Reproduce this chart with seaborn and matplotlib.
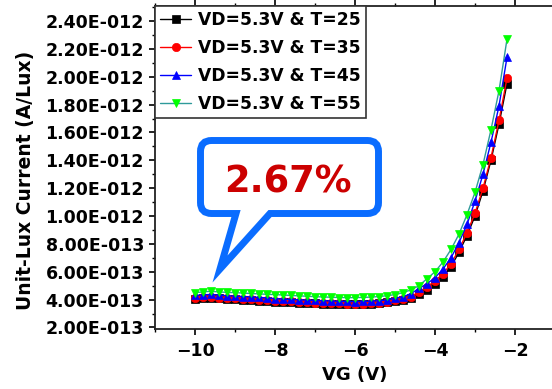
import numpy as np
import pandas as pd
import matplotlib
matplotlib.use("Agg")
import matplotlib.pyplot as plt
import seaborn as sns
from matplotlib.path import Path
from matplotlib.patches import PathPatch
from matplotlib.transforms import IdentityTransform
from matplotlib.ticker import FuncFormatter, MultipleLocator

# Gate voltage sweep (V)
vg = np.round(np.arange(-10.0, -2.19, 0.2), 1)

# Unit-lux current, in units of 1e-12 A/Lux
i_t25 = [0.407, 0.410, 0.412, 0.408, 0.405, 0.402, 0.399, 0.396, 0.393, 0.390,
         0.386, 0.383, 0.380, 0.378, 0.376, 0.374, 0.372, 0.370, 0.369, 0.368,
         0.368, 0.369, 0.371, 0.374, 0.380, 0.390, 0.400, 0.413, 0.443, 0.470,
         0.514, 0.564, 0.636, 0.740, 0.860, 1.000, 1.180, 1.400, 1.660, 1.950]
i_t35 = [0.414, 0.418, 0.420, 0.415, 0.412, 0.409, 0.406, 0.403, 0.399, 0.396,
         0.393, 0.390, 0.387, 0.384, 0.381, 0.379, 0.377, 0.375, 0.373, 0.371,
         0.370, 0.371, 0.373, 0.377, 0.386, 0.398, 0.407, 0.420, 0.457, 0.490,
         0.536, 0.586, 0.657, 0.760, 0.880, 1.020, 1.200, 1.420, 1.686, 1.990]
i_t45 = [0.430, 0.434, 0.437, 0.432, 0.428, 0.425, 0.422, 0.419, 0.416, 0.412,
         0.407, 0.404, 0.401, 0.399, 0.396, 0.394, 0.392, 0.390, 0.388, 0.387,
         0.386, 0.387, 0.389, 0.392, 0.398, 0.410, 0.420, 0.443, 0.480, 0.514,
         0.557, 0.620, 0.700, 0.810, 0.940, 1.107, 1.300, 1.530, 1.790, 2.140]
i_t55 = [0.450, 0.455, 0.460, 0.455, 0.452, 0.450, 0.447, 0.444, 0.441, 0.438,
         0.436, 0.433, 0.430, 0.427, 0.424, 0.421, 0.419, 0.417, 0.415, 0.414,
         0.414, 0.416, 0.418, 0.422, 0.428, 0.436, 0.450, 0.470, 0.500, 0.550,
         0.600, 0.670, 0.760, 0.870, 1.010, 1.170, 1.370, 1.620, 1.900, 2.270]

labels = ["VD=5.3V & T=25", "VD=5.3V & T=35", "VD=5.3V & T=45", "VD=5.3V & T=55"]
series = [i_t25, i_t35, i_t45, i_t55]
line_colors = ["#000000", "#FF0000", "#0000FF", "#2E9A9A"]
marker_colors = ["#000000", "#FF0000", "#0000FF", "#00FF00"]
markers = ["s", "o", "^", "v"]

callout_text = "2.67%"

sns.set_style("ticks")
plt.rcParams["font.family"] = ["DejaVu Sans"]
plt.rcParams["font.weight"] = "bold"
plt.rcParams["text.color"] = "black"
plt.rcParams["axes.labelcolor"] = "black"
plt.rcParams["xtick.color"] = "black"
plt.rcParams["ytick.color"] = "black"
plt.rcParams["xtick.labelcolor"] = "black"
plt.rcParams["ytick.labelcolor"] = "black"

W, H = 552, 389
fig = plt.figure(figsize=(W / 100, H / 100), dpi=100)
ax = fig.add_axes([155 / W, 60 / H, 400 / W, 323 / H])

df = pd.DataFrame({"VG": vg})
for lab, vals, lc, mc, m in zip(labels, series, line_colors, marker_colors, markers):
    df["I"] = np.asarray(vals) * 1e-12
    sns.lineplot(data=df, x="VG", y="I", ax=ax, color=lc, linewidth=1.0,
                 marker=m, markersize=6, markerfacecolor=mc, markeredgecolor=mc,
                 markeredgewidth=0.5, label=lab)

ax.set_xlim(-11, -1)
ax.set_ylim(1.89e-13, 2.508e-12)
ax.xaxis.set_major_locator(MultipleLocator(2))
ax.xaxis.set_minor_locator(MultipleLocator(1))
ax.set_yticks(np.arange(2, 25, 2) * 1e-13)
ax.yaxis.set_minor_locator(MultipleLocator(1e-13))


def sci3(v, pos):
    mant, exp = f"{v:.2E}".split("E")
    return f"{mant}E{int(exp):+04d}"


ax.yaxis.set_major_formatter(FuncFormatter(sci3))

for s in ["left", "bottom", "top"]:
    ax.spines[s].set_linewidth(1.3)
    ax.spines[s].set_color("#222222")
ax.spines["right"].set_visible(False)

ax.tick_params(axis="both", which="major", direction="out", length=4, width=1.2,
               labelsize=12.5, pad=4)
ax.tick_params(axis="both", which="minor", direction="out", length=2.5, width=1.0)
ax.tick_params(axis="x", which="major", pad=5)
ax.tick_params(axis="x", which="both", top=True)
for lbl in ax.get_xticklabels() + ax.get_yticklabels():
    lbl.set_fontweight("bold")
    lbl.set_color("black")

ax.set_xlabel("VG (V)", fontsize=13, fontweight="bold", color="black")
ax.set_ylabel("Unit-Lux Current (A/Lux)", fontsize=13.5, fontweight="bold",
              color="black")
ax.yaxis.set_label_coords(-0.30, 0.46)
ax.xaxis.set_label_coords(0.5, -0.115)

leg = ax.legend(loc="upper left", borderaxespad=0.0, fancybox=False, framealpha=1,
                edgecolor="#333333", prop={"size": 12.3, "weight": "bold"},
                handlelength=1.8, handletextpad=0.4, labelspacing=0.58,
                borderpad=0.3)
leg.get_frame().set_linewidth(1.2)
for t in leg.get_texts():
    t.set_color("black")

# speech-bubble callout, laid out in output pixel coordinates (y from top)
L, R, T, B, r = 200.5, 378.5, 140.5, 213.5, 11
x1, x2, apex = 236, 270, (220, 269)
pts = [
    ((L + r, T), Path.MOVETO), ((R - r, T), Path.LINETO),
    ((R, T), Path.CURVE3), ((R, T + r), Path.CURVE3),
    ((R, B - r), Path.LINETO),
    ((R, B), Path.CURVE3), ((R - r, B), Path.CURVE3),
    ((x2, B), Path.LINETO), (apex, Path.LINETO), ((x1, B), Path.LINETO),
    ((L + r, B), Path.LINETO),
    ((L, B), Path.CURVE3), ((L, B - r), Path.CURVE3),
    ((L, T + r), Path.LINETO),
    ((L, T), Path.CURVE3), ((L + r, T), Path.CURVE3),
    ((L + r, T), Path.CLOSEPOLY),
]
verts = [(x, H - y) for (x, y), _ in pts]
codes = [c for _, c in pts]
bubble = PathPatch(Path(verts, codes), facecolor="white", edgecolor="#0A6CFF",
                   linewidth=5, joinstyle="miter", transform=IdentityTransform(),
                   zorder=5, clip_on=False)
ax.add_artist(bubble)
fig.text(288 / W, 1 - 182 / H, callout_text, color="#CC0000", fontsize=26.5,
         fontweight="bold", ha="center", va="center", zorder=6)

fig.savefig("out.png", dpi=100)
